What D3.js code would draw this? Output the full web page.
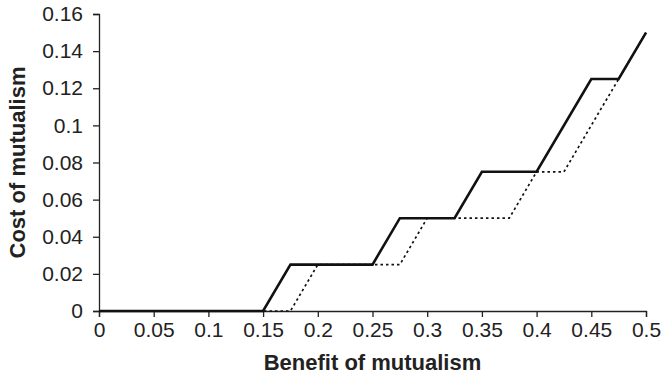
<!DOCTYPE html>
<html>
  <head>
    <meta charset="UTF-8">
    <style>
      body {
        margin: 0;
        font-family: "Liberation Sans", Arial, sans-serif;
        background: white;
      }
      .tick text {
        font-size: 21px;
        fill: #222;
      }
      .axis-label {
        font-size: 22px;
        font-weight: bold;
        fill: #222;
      }
    </style>
    <script src="https://d3js.org/d3.v7.min.js"></script>
  </head>
  <body>
    <svg id="chart"></svg>
    <script type="text/javascript">
      let xTicks = [0, 0.05, 0.1, 0.15, 0.2, 0.25, 0.3, 0.35, 0.4, 0.45, 0.5]
      let yTicks = [0, 0.02, 0.04, 0.06, 0.08, 0.1, 0.12, 0.14, 0.16]

      let solidBenefit = [0, 0.15, 0.175, 0.25, 0.275, 0.325, 0.35, 0.4, 0.45, 0.475, 0.5]
      let solidCost = [0, 0, 0.025, 0.025, 0.05, 0.05, 0.075, 0.075, 0.125, 0.125, 0.15]

      let dottedBenefit = [0, 0.175, 0.2, 0.275, 0.3, 0.375, 0.4, 0.425, 0.475, 0.5]
      let dottedCost = [0, 0, 0.025, 0.025, 0.05, 0.05, 0.075, 0.075, 0.125, 0.15]

      let width = 662
      let height = 380
      let margin = {top: 14, bottom: 69, left: 99, right: 16}
      let bodyWidth = width - margin.left - margin.right
      let bodyHeight = height - margin.top - margin.bottom

      let svg = d3.select('#chart')
        .attr('width', width)
        .attr('height', height)

      let xScale = d3.scaleLinear().domain([0, 0.5]).range([0, bodyWidth])
      let yScale = d3.scaleLinear().domain([0, 0.16]).range([bodyHeight, 0])

      let body = svg.append('g')
        .attr('transform', `translate(${margin.left}, ${margin.top})`)

      let line = d3.line()
        .x(d => xScale(d[0]))
        .y(d => yScale(d[1]))

      let solid = solidBenefit.map((b, i) => [b, solidCost[i]])
      let dotted = dottedBenefit.map((b, i) => [b, dottedCost[i]])

      let axisX = d3.axisBottom(xScale)
        .tickValues(xTicks)
        .tickSize(6)
        .tickPadding(5)
        .tickFormat(d => String(d))

      body.append('g')
        .attr('transform', `translate(0, ${bodyHeight})`)
        .call(axisX)

      let axisY = d3.axisLeft(yScale)
        .tickValues(yTicks)
        .tickSize(6)
        .tickPadding(10)
        .tickFormat(d => String(d))

      body.append('g')
        .call(axisY)

      svg.selectAll('.domain, .tick line')
        .attr('stroke', '#222')
        .attr('stroke-width', 1.3)

      body.append('path')
        .datum(dotted)
        .attr('d', line)
        .attr('fill', 'none')
        .attr('stroke', '#111')
        .attr('stroke-width', 1.7)
        .attr('stroke-dasharray', '2.5,3')

      body.append('path')
        .datum(solid)
        .attr('d', line)
        .attr('fill', 'none')
        .attr('stroke', '#111')
        .attr('stroke-width', 2.6)

      svg.append('text')
        .attr('class', 'axis-label')
        .attr('x', margin.left + bodyWidth / 2)
        .attr('y', 370)
        .attr('text-anchor', 'middle')
        .text('Benefit of mutualism')

      svg.append('text')
        .attr('class', 'axis-label')
        .attr('transform', `translate(25, ${margin.top + bodyHeight / 2}) rotate(-90)`)
        .attr('text-anchor', 'middle')
        .text('Cost of mutualism')
    </script>
  </body>
</html>
